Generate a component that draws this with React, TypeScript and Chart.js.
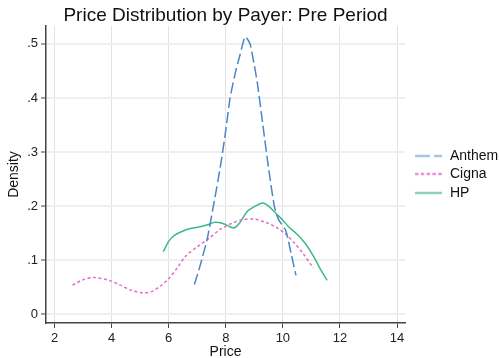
import React, { useEffect, useRef } from "react";
import { Chart, registerables } from "chart.js";

Chart.register(...registerables);

const TITLE = "Price Distribution by Payer: Pre Period";
const X_TITLE = "Price";
const Y_TITLE = "Density";

const xTicks = [2, 4, 6, 8, 10, 12, 14];
const yTicks = [0, 0.1, 0.2, 0.3, 0.4, 0.5];
const yTickLabels = ["0", ".1", ".2", ".3", ".4", ".5"];

const seriesNames = ["Anthem", "Cigna", "HP"];

const anthemX = [6.9, 7.1, 7.35, 7.6, 7.8, 8.0, 8.15, 8.35, 8.5, 8.68, 8.85, 9.0, 9.1, 9.3, 9.5, 9.7, 9.85, 10.1, 10.3, 10.46];
const anthemY = [0.055, 0.09, 0.14, 0.21, 0.27, 0.34, 0.4, 0.45, 0.48, 0.513, 0.5, 0.46, 0.43, 0.35, 0.27, 0.2, 0.175, 0.155, 0.11, 0.072];

const cignaX = [2.63, 3.0, 3.4, 3.9, 4.3, 4.7, 5.1, 5.4, 5.7, 6.0, 6.3, 6.6, 7.0, 7.4, 7.8, 8.2, 8.6, 9.0, 9.4, 9.8, 10.1, 10.4, 10.7, 11.06];
const cignaY = [0.054, 0.064, 0.068, 0.063, 0.054, 0.044, 0.04, 0.042, 0.052, 0.066, 0.086, 0.108, 0.125, 0.14, 0.157, 0.168, 0.175, 0.176, 0.17, 0.16, 0.148, 0.132, 0.113, 0.086];

const hpX = [5.81, 6.0, 6.2, 6.5, 6.8, 7.1, 7.4, 7.6, 7.9, 8.1, 8.3, 8.5, 8.75, 9.0, 9.3, 9.5, 9.75, 10.0, 10.2, 10.5, 10.8, 11.1, 11.3, 11.55];
const hpY = [0.116, 0.135, 0.146, 0.154, 0.159, 0.162, 0.166, 0.17, 0.168, 0.163, 0.16, 0.17, 0.19, 0.199, 0.206, 0.2, 0.187, 0.174, 0.162, 0.148, 0.13, 0.105, 0.085, 0.063];

const lineColors = ["#4b86c4", "#e36cc6", "#3fb888"];
const legendColors = ["#a7c6e4", "#ee8fd4", "#8ed3b6"];
const dashes = [[11, 4], [3, 2.5], []];
const tensions = [0.2, 0.3, 0.3];

const FONT = "'Liberation Sans', Arial, Helvetica, sans-serif";

const pts = (xs: number[], ys: number[]) => xs.map((x, i) => ({ x, y: ys[i] }));

const overlayPlugin = {
  id: "overlay",
  afterDraw(chart: any) {
    const { ctx, chartArea } = chart;
    const cx = (chartArea.left + chartArea.right) / 2;
    ctx.save();
    ctx.fillStyle = "#111";
    ctx.textAlign = "center";
    ctx.textBaseline = "alphabetic";
    ctx.font = `19px ${FONT}`;
    ctx.fillText(TITLE, cx, 21);
    ctx.font = `14px ${FONT}`;
    ctx.fillText(X_TITLE, cx, 356);
    ctx.save();
    ctx.translate(18, (chartArea.top + chartArea.bottom) / 2);
    ctx.rotate(-Math.PI / 2);
    ctx.fillText(Y_TITLE, 0, 0);
    ctx.restore();

    const ys = [156, 174, 193];
    ctx.textAlign = "left";
    ctx.textBaseline = "middle";
    seriesNames.forEach((name, i) => {
      ctx.beginPath();
      ctx.strokeStyle = legendColors[i];
      ctx.lineWidth = 2.5;
      ctx.setLineDash(i === 0 ? [15, 4] : i === 1 ? [3.5, 2.3] : []);
      ctx.moveTo(415, ys[i]);
      ctx.lineTo(442, ys[i]);
      ctx.stroke();
      ctx.setLineDash([]);
      ctx.fillStyle = "#111";
      ctx.font = `14px ${FONT}`;
      ctx.fillText(name, 450, ys[i]);
    });
    ctx.restore();
  },
};

export default function App() {
  const ref = useRef<HTMLCanvasElement>(null);
  useEffect(() => {
    if (!ref.current) return;
    const data = [pts(anthemX, anthemY), pts(cignaX, cignaY), pts(hpX, hpY)];
    const chart = new Chart(ref.current, {
      type: "line",
      data: {
        datasets: seriesNames.map((name, i) => ({
          label: name,
          data: data[i],
          borderColor: lineColors[i],
          borderWidth: 1.5,
          borderDash: dashes[i],
          pointRadius: 0,
          tension: tensions[i],
          fill: false,
        })),
      },
      options: {
        animation: false,
        responsive: true,
        maintainAspectRatio: false,
        layout: { padding: { top: 26, right: 94, bottom: 0, left: 0 } },
        plugins: { legend: { display: false }, title: { display: false }, tooltip: { enabled: false } },
        scales: {
          x: {
            type: "linear",
            min: 1.7,
            max: 14.28,
            afterFit: (s: any) => { s.height = 35; },
            afterBuildTicks: (s: any) => { s.ticks = xTicks.map((v) => ({ value: v })); },
            ticks: {
              autoSkip: false,
              maxRotation: 0,
              padding: 3,
              color: "#222",
              font: { family: FONT, size: 13 },
              callback: (v: any) => String(v),
            },
            grid: { color: "#e2e2e2", lineWidth: 1, tickColor: "#444", tickLength: 5, tickWidth: 1 },
            border: { display: true, color: "#444", width: 1.5 },
          },
          y: {
            type: "linear",
            min: -0.016,
            max: 0.533,
            afterFit: (s: any) => { s.width = 46; },
            afterBuildTicks: (s: any) => { s.ticks = yTicks.map((v) => ({ value: v })); },
            ticks: {
              autoSkip: false,
              padding: 3,
              color: "#222",
              font: { family: FONT, size: 13 },
              callback: (_v: any, i: number) => yTickLabels[i],
            },
            grid: { color: "#efefef", lineWidth: 2, tickColor: "#444", tickLength: 5, tickWidth: 1 },
            border: { display: true, color: "#444", width: 1.5 },
          },
        },
      },
      plugins: [overlayPlugin],
    } as any);
    return () => chart.destroy();
  }, []);
  return (
    <div style={{ position: "fixed", left: 0, top: 0, width: 499, height: 358, background: "#fff" }}>
      <canvas ref={ref} />
    </div>
  );
}
